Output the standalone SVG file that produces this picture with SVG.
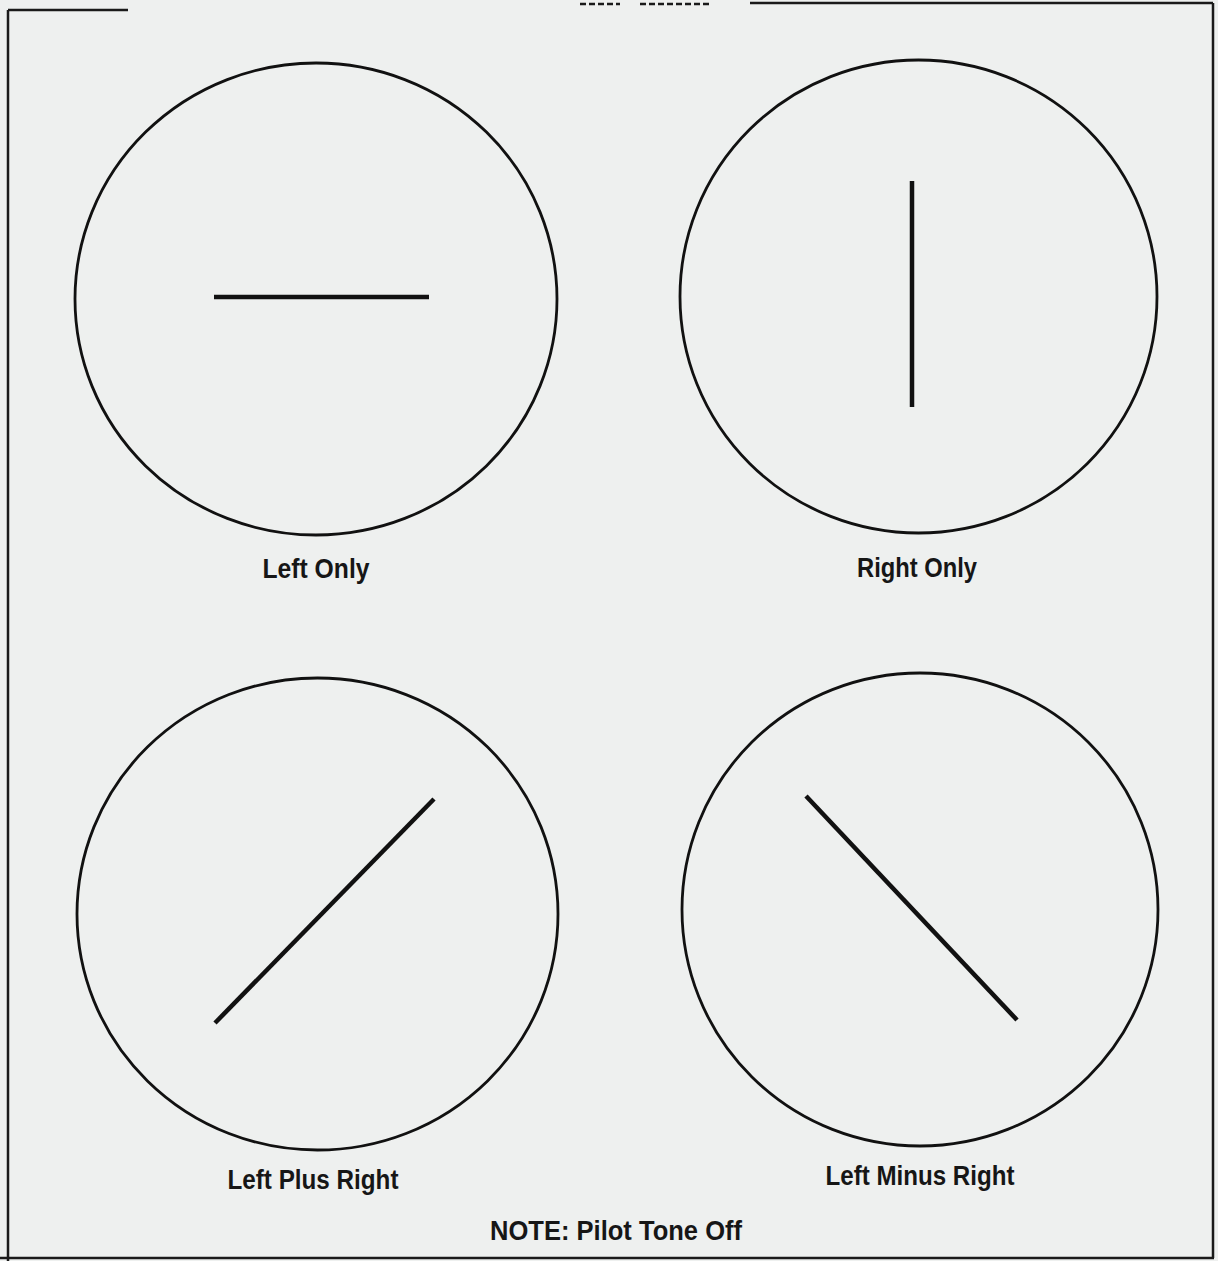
<svg xmlns="http://www.w3.org/2000/svg" width="1218" height="1261" viewBox="0 0 1218 1261">
<style>
.ring{fill:none;stroke:#111;stroke-width:2.8}
.trace{stroke:#111;stroke-width:4.5;stroke-linecap:butt}
.frame{stroke:#1a1a1a;stroke-width:2.5;fill:none}
.lbl{font-family:"Liberation Sans",Arial,sans-serif;font-weight:bold;font-size:27px;fill:#161616;text-anchor:middle}
</style>
<rect x="0" y="0" width="1218" height="1261" fill="#eef0ef"/>
<g id="frame">
<line class="frame" x1="8" y1="10" x2="8" y2="1261"/>
<line class="frame" x1="8" y1="10" x2="128" y2="10"/>
<line class="frame" x1="580" y1="4" x2="620" y2="4" stroke-dasharray="6 3" stroke-width="1.5"/>
<line class="frame" x1="640" y1="4" x2="712" y2="4" stroke-dasharray="6 3" stroke-width="1.5"/>
<line class="frame" x1="750" y1="3" x2="1213" y2="3"/>
<line class="frame" x1="1213" y1="3" x2="1213" y2="1258"/>
<line class="frame" x1="0" y1="1258" x2="1214" y2="1258"/>
</g>
<g id="left-only">
<ellipse class="ring" cx="316" cy="299" rx="241" ry="236"/>
<line class="trace" x1="214" y1="297" x2="429" y2="297"/>
<text class="lbl" x="316" y="578" textLength="107" lengthAdjust="spacingAndGlyphs">Left Only</text>
</g>
<g id="right-only">
<ellipse class="ring" cx="918.5" cy="296.5" rx="238.5" ry="236.5"/>
<line class="trace" x1="912" y1="181" x2="912" y2="407"/>
<text class="lbl" x="917" y="577" textLength="120" lengthAdjust="spacingAndGlyphs">Right Only</text>
</g>
<g id="left-plus-right">
<ellipse class="ring" cx="317.5" cy="914" rx="240.5" ry="236"/>
<line class="trace" x1="215" y1="1023" x2="434" y2="799"/>
<text class="lbl" x="313" y="1189" textLength="171" lengthAdjust="spacingAndGlyphs">Left Plus Right</text>
</g>
<g id="left-minus-right">
<ellipse class="ring" cx="920" cy="909.5" rx="238" ry="236.5"/>
<line class="trace" x1="806" y1="796" x2="1017" y2="1020"/>
<text class="lbl" x="920" y="1185" textLength="189" lengthAdjust="spacingAndGlyphs">Left Minus Right</text>
</g>
<g id="connectors"></g>
<text class="lbl" x="616" y="1240" textLength="252" lengthAdjust="spacingAndGlyphs">NOTE:  Pilot Tone Off</text>
</svg>
